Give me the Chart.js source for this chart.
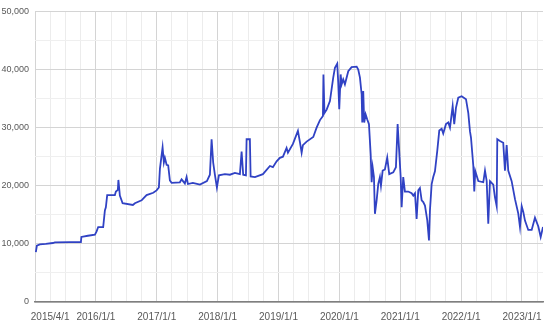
<!DOCTYPE html>
<html><head><meta charset="utf-8">
<script src="https://cdn.jsdelivr.net/npm/chart.js@4/dist/chart.umd.min.js"></script>
<style>html,body{margin:0;padding:0;background:#fff}canvas{display:block}</style>
</head><body>
<canvas id="c" width="550" height="331"></canvas>
<script>
// time as decimal year
const years = [2015.014,2015.031,2015.080,2015.178,2015.293,2015.326,2015.573,2015.754,2015.762,2015.869,2015.984,
2016.012,2016.038,2016.120,2016.148,2016.164,2016.186,2016.312,2016.329,2016.361,2016.370,2016.394,2016.439,2016.608,2016.641,2016.751,2016.777,2016.833,2016.942,2016.997,
2017.035,2017.052,2017.096,2017.117,2017.134,2017.162,2017.188,2017.216,2017.244,2017.380,2017.408,2017.462,2017.490,2017.512,2017.594,2017.709,2017.824,2017.873,2017.901,2017.927,2017.955,2017.988,
2018.021,2018.120,2018.202,2018.284,2018.366,2018.394,2018.420,2018.465,2018.476,2018.530,2018.542,2018.613,2018.744,2018.859,2018.908,2018.969,
2019.023,2019.073,2019.133,2019.155,2019.237,2019.319,2019.352,2019.380,2019.401,2019.462,2019.571,2019.626,2019.681,2019.730,2019.738,2019.755,2019.791,2019.845,2019.899,2019.927,2019.965,2019.981,2019.998,
2020.021,2020.037,2020.063,2020.091,2020.146,2020.201,2020.284,2020.310,2020.338,2020.366,2020.376,2020.392,2020.408,2020.431,2020.458,2020.486,2020.514,2020.530,2020.547,2020.568,2020.584,2020.612,2020.639,2020.666,2020.683,2020.711,2020.748,2020.786,2020.819,2020.885,2020.929,2020.957,2020.979,
2021.007,2021.023,2021.049,2021.077,2021.131,2021.187,2021.214,2021.242,2021.269,2021.296,2021.323,2021.352,2021.378,2021.406,2021.444,2021.472,2021.488,2021.516,2021.542,2021.570,2021.608,2021.641,2021.680,2021.706,2021.751,2021.789,2021.817,2021.861,2021.887,2021.915,2021.953,
2022.009,2022.080,2022.118,2022.145,2022.162,2022.200,2022.216,2022.233,2022.282,2022.364,2022.392,2022.420,2022.446,2022.474,2022.528,2022.556,2022.584,2022.594,2022.638,2022.692,2022.720,2022.748,2022.774,2022.830,2022.885,2022.939,2022.967,2022.995,
2023.021,2023.049,2023.103,2023.159,2023.213,2023.268,2023.307,2023.345];
const prices = [8600,9700,9900,10000,10150,10250,10300,10300,11200,11400,11600,
12150,12900,12900,15750,16300,18400,18400,19000,19300,21000,18300,17000,16700,17000,17500,17800,18400,18800,19200,
19700,22900,26600,24000,24800,23600,23500,20900,20500,20600,21100,20400,21500,20300,20500,20200,20800,21900,28000,24000,21900,19700,
21800,22000,21900,22200,22000,25900,21900,21800,28000,28000,21600,21500,22000,23400,23200,24200,
24800,25000,26500,25700,27200,29450,27500,25700,27000,27600,28400,30000,31300,32000,39150,32500,33100,34580,38600,40300,41000,37800,33150,
39150,37450,38300,37450,39700,40400,40500,40000,38600,35700,30870,36300,30870,32300,31400,30600,25450,20600,23160,21500,15180,17500,20300,21500,20000,22600,22800,24870,22000,22300,23200,30600,26600,
21500,16300,21500,19000,19000,18700,18300,18700,14300,19200,19600,17500,17200,16600,14040,10600,15800,20300,21500,22500,26000,29500,29800,29000,30600,30900,30000,33700,30600,33400,35150,
35400,34900,32500,29400,28300,23450,19000,22500,20800,20600,22600,20800,13470,20800,20200,18000,16500,28000,27700,27400,22600,27000,22600,20800,17700,15200,12900,16500,
15500,14000,12400,12400,14500,13000,11200,12900];
const xMin = 2015.0, xMax = 2023.345;
const quarterStep = 0.25;
const yMax = 50000, yStep = 5000;

const pts = years.map((x,i)=>({x:x, y:prices[i]}));
const fam = "'Liberation Sans',Arial,sans-serif";

new Chart(document.getElementById('c'), {
  type:'line',
  data:{datasets:[{data:pts, borderColor:'#3042c4', borderWidth:1.8, pointRadius:0, tension:0, fill:false}]},
  options:{
    responsive:false, animation:false,
    layout:{padding:{left:0,right:7,top:10,bottom:0}},
    plugins:{legend:{display:false}, tooltip:{enabled:false}},
    scales:{
      x:{type:'linear', min:xMin, max:xMax,
        afterBuildTicks:(s)=>{const t=[];for(let v=xMin; v<=xMax+1e-9; v+=quarterStep){t.push({value:Math.round(v*100)/100});} s.ticks=t;},
        afterFit:(s)=>{s.height=29;},
        grid:{drawTicks:false, color:(ctx)=>{const v=ctx.tick&&ctx.tick.value; return (v!==undefined && Math.abs(v-Math.round(v))<1e-6)?'#d4d4d4':'#ececec';}, lineWidth:1},
        border:{display:true,color:'#7f7f7f',width:1.5},
        ticks:{autoSkip:false, maxRotation:0, padding:9, color:'#595959', font:{family:fam,size:10},
          callback:(v)=>{ if(Math.abs(v-2015.25)<1e-6) return '2015/4/1'; if(Math.abs(v-Math.round(v))<1e-6 && v>=2016) return Math.round(v)+'/1/1'; return ''; }}
      },
      y:{min:0, max:yMax,
        afterFit:(s)=>{s.width=35;},
        afterBuildTicks:(s)=>{const t=[];for(let v=0; v<=yMax; v+=yStep){t.push({value:v});} s.ticks=t;},
        grid:{drawTicks:false, color:(ctx)=>{const v=ctx.tick&&ctx.tick.value; return (v%10000===0)?'#d4d4d4':'#efefef';}},
        border:{display:false},
        ticks:{padding:6, color:'#595959', font:{family:fam,size:9},
          callback:(v)=> v%10000===0 ? v.toLocaleString('en-US') : ''}
      }
    }
  }
});
</script>
</body></html>
